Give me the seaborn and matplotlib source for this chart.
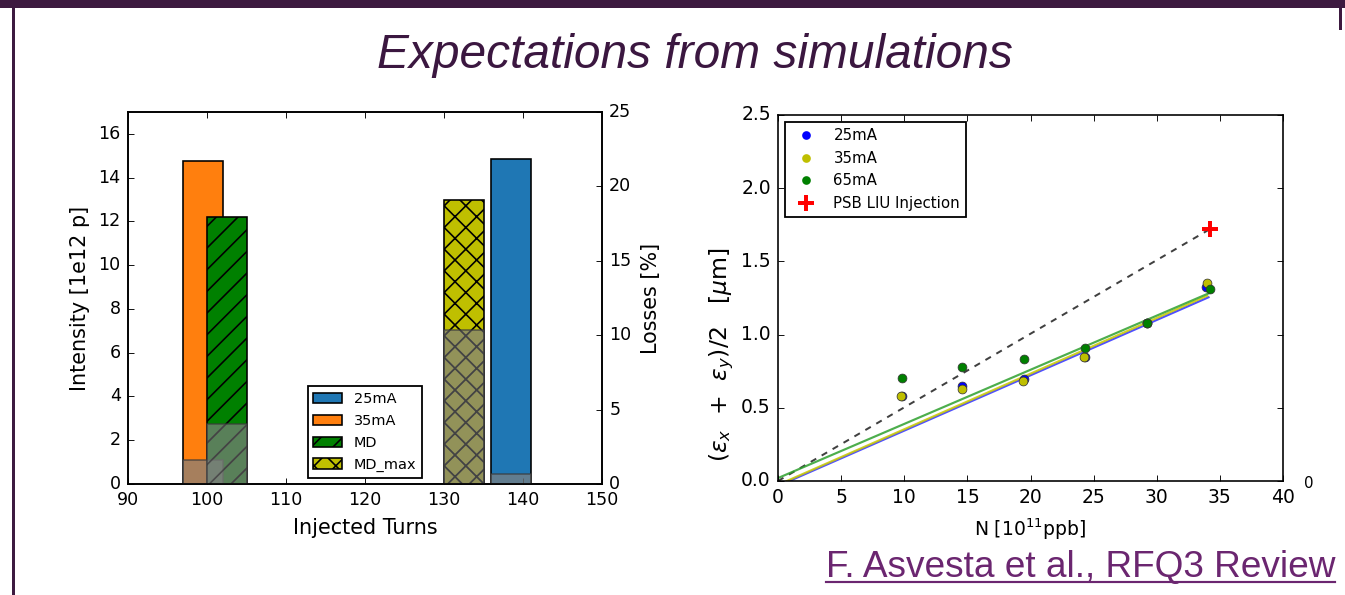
import matplotlib
matplotlib.use('Agg')
import matplotlib.pyplot as plt
import seaborn as sns
from matplotlib.patches import Rectangle
from matplotlib.lines import Line2D

# ---------------- data: left panel ----------------
bar_labels = ['25mA', '35mA', 'MD', 'MD_max']
bar_start = [136, 97, 100, 130]          # left edge of each bar (injected turns)
bar_width = 5
bar_intensity = [14.85, 14.75, 12.2, 13.0]   # [1e12 p]
bar_losses = [0.7, 1.6, 4.0, 10.35]          # [%]
bar_colors = ['#1f77b4', '#ff7f0e', 'green', 'y']
bar_hatches = ['', '', '//', 'xx']
draw_order = [1, 2, 3, 0]

# ---------------- data: right panel ----------------
n_25 = [9.8, 14.55, 19.5, 24.3, 29.2, 33.9]
e_25 = [0.58, 0.651, 0.697, 0.85, 1.08, 1.327]
n_35 = [9.72, 14.55, 19.4, 24.2, 29.2, 33.96]
e_35 = [0.583, 0.628, 0.685, 0.847, 1.08, 1.355]
n_65 = [9.8, 14.6, 19.5, 24.35, 29.25, 34.2]
e_65 = [0.706, 0.777, 0.831, 0.906, 1.077, 1.314]
fit_25_x, fit_25_y = [0.9, 34.1], [0.0, 1.255]
fit_35_x, fit_35_y = [0.7, 34.0], [0.0, 1.265]
fit_65_x, fit_65_y = [0.0, 34.2], [0.02, 1.285]
liu_x, liu_y = [34.2], [1.72]
trend_x, trend_y = [0.0, 34.2], [0.0, 1.72]

W, H, DPI = 1345, 595, 130
plt.style.use('classic')
plt.rcParams.update({
    'font.family': ['DejaVu Sans'],
    'mathtext.fontset': 'dejavusans',
    'figure.facecolor': 'white',
    'savefig.facecolor': 'white',
    'hatch.linewidth': 0.9,
    'legend.numpoints': 1,
    'legend.scatterpoints': 1,
    'xtick.major.size': 3.5, 'ytick.major.size': 3.5,
    'xtick.minor.size': 0, 'ytick.minor.size': 0,
    'axes.linewidth': 0.9,
})

fig = plt.figure(figsize=(W / DPI, H / DPI), dpi=DPI)

def fx(px):
    return px / W

def fy(py):
    return 1 - py / H

# ---------------- slide decorations ----------------
frame_c = '#3d1a40'
fig.add_artist(Rectangle((0, fy(8)), 1, 8 / H, transform=fig.transFigure, color=frame_c, lw=0))
fig.add_artist(Rectangle((fx(12), 0), 3 / W, fy(8), transform=fig.transFigure, color=frame_c, lw=0))
fig.add_artist(Rectangle((fx(1339), fy(30)), 3 / W, 22 / H, transform=fig.transFigure, color=frame_c, lw=0))
fig.text(fx(695), fy(56), 'Expectations from simulations', ha='center', va='center',
         fontsize=26.5, style='italic', family='Liberation Sans', color='#3b1740')
cite_c = '#6b2670'
fig.text(fx(826), fy(577), 'F. Asvesta et al., RFQ3 Review', ha='left', va='baseline',
         fontsize=20.5, family='Liberation Sans', color=cite_c)
fig.add_artist(Line2D([fx(826), fx(1335)], [fy(582), fy(582)], transform=fig.transFigure,
                      color=cite_c, lw=1.2))

# ---------------- left panel ----------------
ax1 = fig.add_axes([fx(128), fy(484), 474 / W, 372 / H])
handles = {}
for i in draw_order:
    b = ax1.bar(bar_start[i], bar_intensity[i], width=bar_width, align='edge',
                color=bar_colors[i], edgecolor='k', lw=0.9, hatch=bar_hatches[i] or None,
                label=bar_labels[i])
    handles[bar_labels[i]] = b
ax1.set_xlim(90, 150)
ax1.set_ylim(0, 17)
ax1.set_xticks(range(90, 151, 10))
ax1.set_yticks(range(0, 17, 2))
ax1.tick_params(labelsize=9.7)
ax1.set_xlabel('Injected Turns', fontsize=11.5)
ax1.set_ylabel('Intensity [1e12 p]', fontsize=11.5)
ax1.legend([handles[l] for l in bar_labels], bar_labels, loc='lower center', fontsize=8,
           borderaxespad=0.45, handlelength=2.0, labelspacing=0.55)

ax2 = ax1.twinx()
for i in draw_order:
    ax2.bar(bar_start[i], bar_losses[i], width=bar_width, align='edge',
            color='gray', alpha=0.7, edgecolor='#3a3a3a', lw=0.9, hatch=bar_hatches[i] or None)
ax2.set_ylim(0, 25)
ax2.set_yticks(range(0, 26, 5))
ax2.tick_params(labelsize=9.7)
ax2.set_ylabel('Losses [%]', fontsize=11.5)

# ---------------- right panel ----------------
ax3 = fig.add_axes([fx(778), fy(481), 505 / W, 366 / H])
sns.lineplot(x=trend_x, y=trend_y, color='#404040', lw=1.1, linestyle=(0, (3.5, 3.5)),
             ax=ax3, legend=False, estimator=None, sort=False)
for fxs, fys, c in [(fit_25_x, fit_25_y, '#3030ff'), (fit_35_x, fit_35_y, '#c8c800'),
                    (fit_65_x, fit_65_y, '#2ea02e')]:
    sns.lineplot(x=fxs, y=fys, color=c, lw=1.2, alpha=0.85, ax=ax3, legend=False,
                 estimator=None, sort=False)
sc = []
for xs, ys, c, lab in [(n_25, e_25, 'b', '25mA'), (n_35, e_35, 'y', '35mA'),
                       (n_65, e_65, 'g', '65mA')]:
    sns.scatterplot(x=xs, y=ys, color=c, s=24, edgecolor='#333333', linewidth=0.4,
                    ax=ax3, legend=False, zorder=3)
    sc.append(Line2D([], [], ls='none', marker='o', ms=4.8, mfc=c, mec='none', label=lab))
sns.scatterplot(x=liu_x, y=liu_y, marker='+', s=80, color='red', linewidth=2.2,
                ax=ax3, legend=False, zorder=4)
sc.append(Line2D([], [], ls='none', marker='+', ms=9, mew=2.2, color='red',
                 label='PSB LIU Injection'))
ax3.set_xlim(0, 40)
ax3.set_ylim(0, 2.5)
ax3.set_xticks(range(0, 41, 5))
ax3.set_yticks([0, 0.5, 1.0, 1.5, 2.0, 2.5])
ax3.set_yticklabels(['0.0', '0.5', '1.0', '1.5', '2.0', '2.5'])
ax3.tick_params(labelsize=10.4)
ax3.set_xlabel(r'N [10$^{11}$ppb]', fontsize=10.4)
ax3.set_ylabel(r'($\epsilon_x$  +  $\epsilon_y$)/2   [$\mu$m]', fontsize=13)
ax3.yaxis.set_label_coords(-0.083, 0.344)
ax3.legend(handles=sc, loc='upper left', fontsize=8.3, borderaxespad=0.5,
           handlelength=2.0, labelspacing=0.5)

fig.text(fx(1309), fy(483), '0', ha='center', va='center', fontsize=8.3)

fig.savefig('out.png', dpi=DPI)
